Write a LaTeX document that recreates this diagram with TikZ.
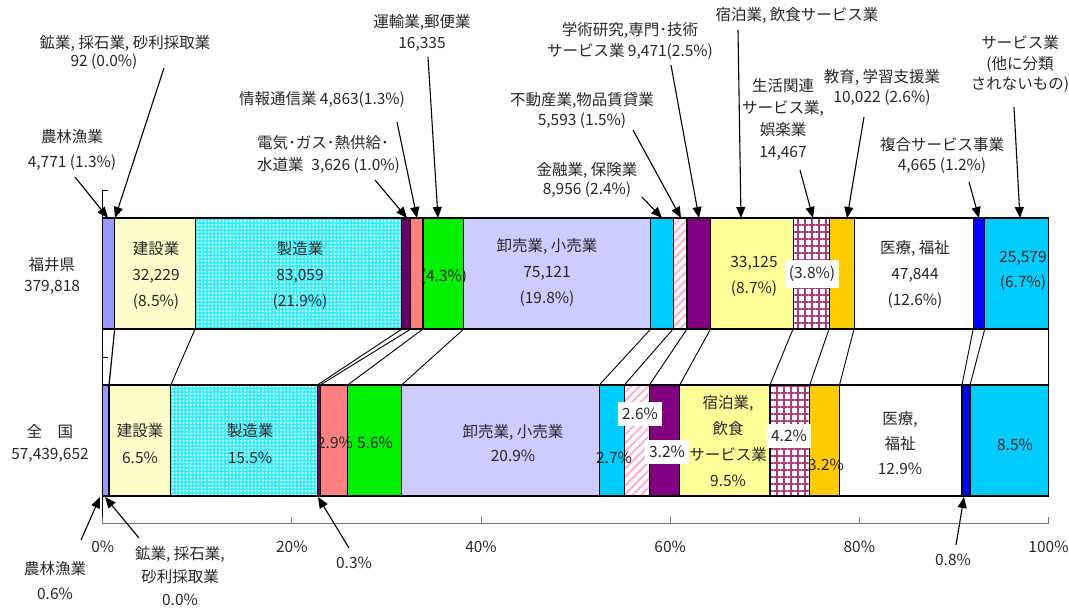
\documentclass[tikz,border=0pt]{standalone}
\usepackage{fontspec}
\setmainfont{Noto Sans CJK JP}
\usetikzlibrary{arrows.meta}
\usetikzlibrary{patterns.meta}
\definecolor{nourinC}{RGB}{153,153,255}
\definecolor{kogyoC}{RGB}{102,102,204}
\definecolor{kensetsuC}{RGB}{255,255,204}
\definecolor{seizoC}{RGB}{50,238,255}
\definecolor{denkiC}{RGB}{102,0,102}
\definecolor{johoC}{RGB}{255,128,128}
\definecolor{unyuC}{RGB}{0,240,0}
\definecolor{oroshiC}{RGB}{204,204,255}
\definecolor{kinyuC}{RGB}{0,204,255}
\definecolor{fudosanC}{RGB}{255,175,215}
\definecolor{gakujutsuC}{RGB}{128,0,128}
\definecolor{shukuhakuC}{RGB}{255,255,153}
\definecolor{seikatsuC}{RGB}{170,60,120}
\definecolor{kyoikuC}{RGB}{255,204,0}
\definecolor{fukugoC}{RGB}{0,0,255}
\newcommand\seg[3]{\draw[bar,#3] (#1,0) rectangle (#2,111);}

\begin{document}
\begin{tikzpicture}[x=1pt,y=-1pt,
  bar/.style={draw=black,line width=1.1pt},
  nourin/.style={fill=nourinC}, kogyo/.style={fill=kogyoC},
  kensetsu/.style={fill=kensetsuC},
  seizo/.style={preaction={fill=seizoC},pattern={Dots[distance=3.6pt,radius=1.1pt]},pattern color=white},
  denki/.style={fill=denkiC}, joho/.style={fill=johoC}, unyu/.style={fill=unyuC},
  oroshi/.style={fill=oroshiC}, kinyu/.style={fill=kinyuC},
  fudosan/.style={preaction={fill=white},pattern={Lines[angle=45,distance=6pt,line width=2pt]},pattern color=fudosanC},
  gakujutsu/.style={fill=gakujutsuC}, shukuhaku/.style={fill=shukuhakuC},
  seikatsu/.style={preaction={fill=white},pattern={Hatch[angle=0,distance=7pt,line width=1.6pt]},pattern color=seikatsuC},
  kyoiku/.style={fill=kyoikuC}, iryo/.style={fill=white}, fukugo/.style={fill=fukugoC},
  sabisu/.style={fill=kinyuC},
  series/.style={line width=0.9pt},
  axisx/.style={draw=black!55,line width=1pt},
  lbl/.style={font=\fontsize{15.5}{21}\selectfont,align=center,text=black!85,inner sep=0pt},
  inbar/.style={lbl,font=\fontsize{15.5}{26}\selectfont},
  wbox/.style={inbar,fill=white,inner xsep=4pt,inner ysep=6pt},
  pointer/.style={-{Triangle[length=11pt,width=9pt]},line width=1.1pt}]

\useasboundingbox (0,0) rectangle (1069,610);

% 福井県
\begin{scope}[xshift=102.7pt,x=9.458pt,shift={(0,218)}]
\seg{0}{1.256}{nourin}
\seg{1.256}{1.280}{kogyo}
\seg{1.280}{9.766}{kensetsu}
\seg{9.766}{31.634}{seizo}
\seg{31.634}{32.589}{denki}
\seg{32.589}{33.869}{joho}
\seg{33.869}{38.170}{unyu}
\seg{38.170}{57.948}{oroshi}
\seg{57.948}{60.306}{kinyu}
\seg{60.306}{61.779}{fudosan}
\seg{61.779}{64.272}{gakujutsu}
\seg{64.272}{72.993}{shukuhaku}
\seg{72.993}{76.802}{seikatsu}
\seg{76.802}{79.441}{kyoiku}
\seg{79.441}{92.037}{iryo}
\seg{92.037}{93.265}{fukugo}
\seg{93.265}{100}{sabisu}
\draw[series] (1.256,111) -- (0.65,167) (1.280,111) -- (0.69,167) (9.766,111) -- (7.2,167)
  (31.634,111) -- (22.7,167) (32.589,111) -- (23.0,167) (33.869,111) -- (25.9,167)
  (38.170,111) -- (31.6,167) (57.948,111) -- (52.5,167) (60.306,111) -- (55.15,167)
  (61.779,111) -- (57.8,167) (64.272,111) -- (61.0,167) (72.993,111) -- (70.55,167)
  (76.802,111) -- (74.75,167) (79.441,111) -- (77.9,167) (92.037,111) -- (90.85,167)
  (93.265,111) -- (91.7,167) (100,111) -- (100,167);
\end{scope}

% 全国
\begin{scope}[xshift=102.7pt,x=9.458pt,shift={(0,385)}]
\seg{0}{0.65}{nourin}
\seg{0.65}{0.69}{kogyo}
\seg{0.69}{7.2}{kensetsu}
\seg{7.2}{22.7}{seizo}
\seg{22.7}{23.0}{denki}
\seg{23.0}{25.9}{joho}
\seg{25.9}{31.6}{unyu}
\seg{31.6}{52.5}{oroshi}
\seg{52.5}{55.15}{kinyu}
\seg{55.15}{57.8}{fudosan}
\seg{57.8}{61.0}{gakujutsu}
\seg{61.0}{70.55}{shukuhaku}
\seg{70.55}{74.75}{seikatsu}
\seg{74.75}{77.9}{kyoiku}
\seg{77.9}{90.85}{iryo}
\seg{90.85}{91.7}{fukugo}
\seg{91.7}{100}{sabisu}
\end{scope}

% axes
\draw[line width=1pt] (108,190) -- (102.7,190) -- (102.7,523.5);
\draw[line width=1pt] (102.7,357) -- (107.5,357);
\begin{scope}[xshift=102.7pt,x=9.458pt]
\draw[axisx] (0,523.5) -- (100,523.5);
\foreach \p in {0,20,...,100} {
  \draw[axisx] (\p,523.5) -- (\p,517);
  \node[lbl] (tick\p) at (\p,547) {\p\%};
}
\end{scope}

\node[lbl] (fukui) at (52,275.5) {福井県\\379,818};
\node[lbl,font=\fontsize{15.5}{22}\selectfont] (zenkoku) at (50,443) {全　国\\57,439,652};

% labels in the bars
\node[inbar] (kensetsuF) at (156,275) {建設業\\32,229\\(8.5\%)};
\node[inbar] (seizoF) at (300,275) {製造業\\83,059\\(21.9\%)};
\node[inbar] (unyuF) at (444,277) {(4.3\%)};
\node[inbar] (oroshiF) at (547,272) {卸売業, 小売業\\75,121\\(19.8\%)};
\node[inbar] (shukuhakuF) at (754,276) {33,125\\(8.7\%)};
\node[wbox] (seikatsuF) at (812,274) {(3.8\%)};
\node[inbar] (iryoF) at (915,275) {医療, 福祉\\47,844\\(12.6\%)};
\node[inbar,font=\fontsize{15.5}{25}\selectfont] (sabisuF) at (1023,270.5) {25,579\\(6.7\%)};

\node[inbar,font=\fontsize{15.5}{27}\selectfont] (kensetsuZ) at (140,443.5) {建設業\\6.5\%};
\node[inbar,font=\fontsize{15.5}{27}\selectfont] (seizoZ) at (250,443.5) {製造業\\15.5\%};
\node[inbar] (johoZ) at (335,443) {2.9\%};
\node[inbar] (unyuZ) at (375,443) {5.6\%};
\node[inbar,font=\fontsize{15.5}{24}\selectfont] (oroshiZ) at (513,443.5) {卸売業, 小売業\\20.9\%};
\node[inbar] (kinyuZ) at (614,458) {2.7\%};
\node[wbox] (fudosanZ) at (640,414) {2.6\%};
\node[wbox] (gakujutsuZ) at (667,452) {3.2\%};
\node[inbar] (shukuhakuZ) at (728,441.5) {宿泊業,\\飲食\\サービス業\\9.5\%};
\node[wbox] (seikatsuZ) at (789,436) {4.2\%};
\node[inbar] (kyoikuZ) at (826,465) {3.2\%};
\node[inbar,font=\fontsize{15.5}{25}\selectfont] (iryoZ) at (900,443) {医療,\\福祉\\12.9\%};
\node[inbar] (sabisuZ) at (1015,445) {8.5\%};

% callouts, top
\node[lbl,font=\fontsize{15.5}{25}\selectfont] (nourinL) at (72,150.5) {農林漁業\\4,771 (1.3\%)};
\coordinate (nourinA) at (75,177);
\coordinate (nourinB) at (108,218);
\draw[pointer] (nourinA) -- (nourinB);

\node[lbl,font=\fontsize{15.5}{18}\selectfont] (kogyoL) at (125,53) {鉱業, 採石業, 砂利採取業\\92 (0.0\%)\hspace*{42pt}};
\coordinate (kogyoA) at (164,68);
\coordinate (kogyoB) at (115,218);
\draw[pointer] (kogyoA) -- (kogyoB);

\node[lbl,anchor=west,align=left,font=\fontsize{15.5}{22}\selectfont] (denkiL) at (257,154) {電気･ガス･熱供給･\\水道業\enspace 3,626 (1.0\%)};
\coordinate (denkiA) at (375,180);
\coordinate (denkiB) at (407,218);
\draw[pointer] (denkiA) -- (denkiB);

\node[lbl] (johoL) at (322,100) {情報通信業 4,863(1.3\%)};
\coordinate (johoA) at (397,122);
\coordinate (johoB) at (417,218);
\draw[pointer] (johoA) -- (johoB);

\node[lbl] (unyuL) at (422,32.5) {運輸業,郵便業\\16,335};
\coordinate (unyuA) at (428,57);
\coordinate (unyuB) at (438,218);
\draw[pointer] (unyuA) -- (unyuB);

\node[lbl,font=\fontsize{15.5}{20}\selectfont] (kinyuL) at (587,180) {金融業, 保険業\\8,956 (2.4\%)};
\coordinate (kinyuA) at (642,197);
\coordinate (kinyuB) at (662,218);
\draw[pointer] (kinyuA) -- (kinyuB);

\node[lbl,font=\fontsize{15.5}{20}\selectfont] (fudosanL) at (582,110) {不動産業,物品賃貸業\\5,593 (1.5\%)};
\coordinate (fudosanA) at (633,130);
\coordinate (fudosanB) at (681,218);
\draw[pointer] (fudosanA) -- (fudosanB);

\node[lbl] (gakujutsuL) at (630,40.5) {学術研究,専門･技術\\サービス業 9,471(2.5\%)};
\coordinate (gakujutsuA) at (671,65);
\coordinate (gakujutsuB) at (699,218);
\draw[pointer] (gakujutsuA) -- (gakujutsuB);

\node[lbl] (shukuhakuL) at (797,15) {宿泊業, 飲食サービス業};
\coordinate (shukuhakuA) at (738,30);
\coordinate (shukuhakuB) at (741,218);
\draw[pointer] (shukuhakuA) -- (shukuhakuB);

\node[lbl,font=\fontsize{15.5}{22}\selectfont] (seikatsuL) at (783,119) {生活関連\\サービス業,\\娯楽業\\14,467};
\coordinate (seikatsuA) at (800,170);
\coordinate (seikatsuB) at (813,218);
\draw[pointer] (seikatsuA) -- (seikatsuB);

\node[lbl,font=\fontsize{15.5}{20}\selectfont] (kyoikuL) at (882,87) {教育, 学習支援業\\10,022 (2.6\%)};
\coordinate (kyoikuA) at (864,117);
\coordinate (kyoikuB) at (847,218);
\draw[pointer] (kyoikuA) -- (kyoikuB);

\node[lbl,font=\fontsize{15.5}{20}\selectfont] (fukugoL) at (942,156) {複合サービス事業\\4,665 (1.2\%)};
\coordinate (fukugoA) at (969,182);
\coordinate (fukugoB) at (979,218);
\draw[pointer] (fukugoA) -- (fukugoB);

\node[lbl,font=\fontsize{15.5}{20.5}\selectfont] (sabisuL) at (1020,64.5) {サービス業\\(他に分類\\されないもの)};
\coordinate (sabisuA) at (1014,107);
\coordinate (sabisuB) at (1020,218);
\draw[pointer] (sabisuA) -- (sabisuB);

% callouts, bottom
\node[lbl,font=\fontsize{15.5}{25}\selectfont] (nourinM) at (55,580.5) {農林漁業\\0.6\%};
\coordinate (nourinC) at (81,540);
\coordinate (nourinD) at (100,497);
\draw[pointer] (nourinC) -- (nourinD);

\node[lbl,font=\fontsize{15.5}{23}\selectfont] (kogyoM) at (180,576) {鉱業, 採石業,\\砂利採取業\\0.0\%};
\coordinate (kogyoC) at (139,538);
\coordinate (kogyoD) at (105,497);
\draw[pointer] (kogyoC) -- (kogyoD);

\node[lbl] (denkiM) at (354,563) {0.3\%};
\coordinate (denkiC) at (349,548);
\coordinate (denkiD) at (318,497);
\draw[pointer] (denkiC) -- (denkiD);

\node[lbl] (fukugoM) at (953,560) {0.8\%};
\coordinate (fukugoC) at (956,545);
\coordinate (fukugoD) at (964,497);
\draw[pointer] (fukugoC) -- (fukugoD);

\end{tikzpicture}
\end{document}
